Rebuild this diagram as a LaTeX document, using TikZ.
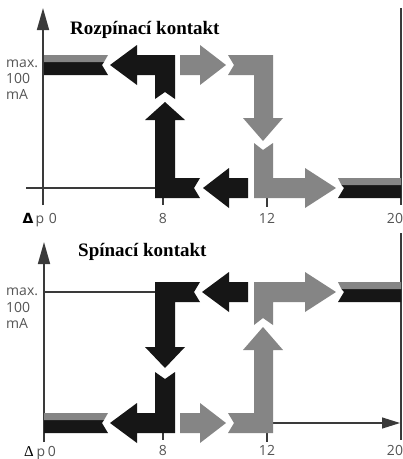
\documentclass[tikz,border=0pt]{standalone}
\usepackage{fontspec}
\setmainfont{Liberation Serif}
\newfontfamily\lblfont{Open Sans}
\newfontfamily\dejafont{DejaVu Sans}
\usetikzlibrary{arrows.meta}
\definecolor{blk}{HTML}{161616}
\definecolor{gry}{HTML}{858585}
\definecolor{axc}{HTML}{3A3A3A}
\definecolor{txtc}{HTML}{555555}
\tikzset{
  blkfill/.style={fill=blk},
  gryfill/.style={fill=gry},
  axisline/.style={draw=axc, line width=1.6pt},
  axisarrow/.style={axisline, -{Triangle[length=22pt,width=12pt]}},
  thinline/.style={draw=axc, line width=1.2pt},
  lbl/.style={font=\lblfont\fontsize{14}{14}\selectfont, text=txtc, inner sep=0pt, anchor=base west},
  num/.style={font=\lblfont\fontsize{14}{14}\selectfont, text=txtc, inner sep=0pt, anchor=base},
  titletext/.style={font=\bfseries\fontsize{19}{19}\selectfont, inner sep=0pt, anchor=base west},
}
\begin{document}
\begin{tikzpicture}[x=1pt,y=-1pt]
\useasboundingbox (0,0) rectangle (403,459);
\fill[white] (0,0) rectangle (403,459);

% ================= TOP PANEL =================
\coordinate (a1b) at (43,205);
\coordinate (a1t) at (43,8);
\draw[axisarrow] (a1b) -- (a1t);
\coordinate (r1t) at (401,8);
\coordinate (r1b) at (401,205);
\draw[axisline] (r1t) -- (r1b);
\coordinate (h1a) at (26,188);
\coordinate (h1b) at (156,188);
\draw[thinline] (h1a) -- (h1b);
\coordinate (t1a) at (163,198);
\coordinate (t1b) at (163,205);
\draw[thinline] (t1a) -- (t1b);
\coordinate (t2a) at (267,198);
\coordinate (t2b) at (267,207);
\draw[thinline] (t2a) -- (t2b);

% left bar (grey over black)
\fill[blkfill] (44,62) -- (104,62) -- (102,65) -- (108,75) -- (44,75) -- cycle;
\fill[gryfill] (44,55) -- (108,55) -- (104,62) -- (44,62) -- cycle;
% black L (left arrow + down stub)
\fill[blkfill] (110,65) -- (137,45) -- (137,55) -- (175,55) -- (175,99) -- (165,92) -- (155,99) -- (155,75) -- (137,75) -- (137,85) -- cycle;
% black up arrow L
\fill[blkfill] (165,102) -- (185,120) -- (175,120) -- (175,178) -- (200,178) -- (194,188) -- (200,198) -- (155,198) -- (155,120) -- (145,120) -- cycle;
% black left arrow bottom middle
\fill[blkfill] (203,188) -- (229,168) -- (229,178) -- (248,178) -- (248,198) -- (229,198) -- (229,208) -- cycle;
% grey right arrow top middle
\fill[gryfill] (180,55) -- (200,55) -- (200,45) -- (226,65) -- (200,85) -- (200,75) -- (180,75) -- cycle;
% grey L top right (down arrow)
\fill[gryfill] (228,55) -- (273,55) -- (273,118) -- (283,118) -- (263,141) -- (243,118) -- (254,118) -- (254,75) -- (228,75) -- (234,65) -- cycle;
% grey L bottom right (right arrow)
\fill[gryfill] (254,143) -- (263,150) -- (273,143) -- (273,178) -- (305,178) -- (305,168) -- (336,188) -- (305,208) -- (305,198) -- (254,198) -- cycle;
% right bar
\fill[blkfill] (338,198) -- (401,198) -- (401,185) -- (341.5,185) -- (344,188) -- cycle;
\fill[gryfill] (338,178) -- (401,178) -- (401,185) -- (341.5,185) -- cycle;

% labels top
\node[titletext] (title1) at (70,34) {Rozpínací kontakt};
\node[lbl] (max1) at (6,67) {max.};
\node[lbl] (hun1) at (6,83) {100};
\node[lbl] (ma1) at (6,99) {mA};
\node[font=\dejafont\bfseries\fontsize{14}{14}\selectfont, inner sep=0pt, anchor=base] (dl1) at (28,223) {Δ};
\node[num] (p1) at (40,223) {p};
\node[num] (z1) at (53,223) {0};
\node[num] (e1) at (163,223) {8};
\node[num] (tw1) at (267,223) {12};
\node[num] (tn1) at (395,223) {20};

% ================= BOTTOM PANEL =================
\coordinate (a2b) at (44,442);
\coordinate (a2t) at (44,242);
\draw[axisarrow] (a2b) -- (a2t);
\coordinate (r2t) at (401,233);
\coordinate (r2b) at (401,440);
\draw[axisline] (r2t) -- (r2b);
\coordinate (h2a) at (44,292);
\coordinate (h2b) at (156,292);
\draw[thinline] (h2a) -- (h2b);
\coordinate (t3a) at (163,433);
\coordinate (t3b) at (163,440);
\draw[thinline] (t3a) -- (t3b);
\coordinate (t4a) at (267,433);
\coordinate (t4b) at (267,442);
\draw[thinline] (t4a) -- (t4b);
\coordinate (f2a) at (273,423);
\coordinate (f2b) at (400,423);
\draw[thinline, -{Triangle[length=18pt,width=11pt]}] (f2a) -- (f2b);

% left bar bottom (grey over black)
\fill[blkfill] (44,420) -- (104,420) -- (102,423) -- (108,433) -- (44,433) -- cycle;
\fill[gryfill] (44,413) -- (108,413) -- (104,420) -- (44,420) -- cycle;
% black L bottom (left arrow + up stub)
\fill[blkfill] (110,423) -- (137,403) -- (137,413) -- (155,413) -- (155,372) -- (165,379) -- (175,372) -- (175,433) -- (137,433) -- (137,443) -- cycle;
% black L top (down arrow)
\fill[blkfill] (155,282) -- (200,282) -- (194,292) -- (200,302) -- (175,302) -- (175,347) -- (185,347) -- (165,368) -- (145,347) -- (155,347) -- cycle;
% black left arrow top middle
\fill[blkfill] (202,292) -- (229,272) -- (229,282) -- (248,282) -- (248,302) -- (229,302) -- (229,312) -- cycle;
% grey right arrow bottom middle
\fill[gryfill] (180,413) -- (200,413) -- (200,403) -- (226,423) -- (200,443) -- (200,433) -- (180,433) -- cycle;
% grey L bottom (up arrow)
\fill[gryfill] (228,413) -- (254,413) -- (254,350) -- (243,350) -- (263,327) -- (283,350) -- (273,350) -- (273,433) -- (228,433) -- (234,423) -- cycle;
% grey L top (right arrow)
\fill[gryfill] (254,325) -- (254,282) -- (305,282) -- (305,272) -- (336,292) -- (305,312) -- (305,302) -- (273,302) -- (273,325) -- (263,318) -- cycle;
% right bar bottom
\fill[blkfill] (338,302) -- (401,302) -- (401,289) -- (341.5,289) -- (344,292) -- cycle;
\fill[gryfill] (338,282) -- (401,282) -- (401,289) -- (341.5,289) -- cycle;

% labels bottom
\node[titletext] (title2) at (78,256) {Spínací kontakt};
\node[lbl] (max2) at (6,295) {max.};
\node[lbl] (hun2) at (6,312) {100};
\node[lbl] (ma2) at (6,328) {mA};
\node[font=\fontsize{15}{15}\selectfont, inner sep=0pt, anchor=base] (dl2) at (29,456) {Δ};
\node[num] (p2) at (41,456) {p};
\node[num] (z2) at (52,456) {0};
\node[num] (e2) at (163,455) {8};
\node[num] (tw2) at (267,455) {12};
\node[num] (tn2) at (395,455) {20};
\end{tikzpicture}
\end{document}
